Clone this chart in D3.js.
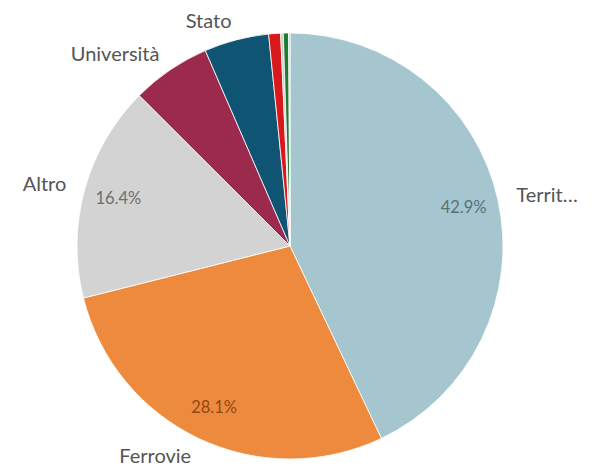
<!DOCTYPE html>
<html>
<head>
<meta charset="utf-8">
<script src="https://cdn.jsdelivr.net/npm/d3@7"></script>
<style>
  body { margin: 0; background: #fff; }
  svg { display: block; }
</style>
</head>
<body>
<div id="chart"></div>
<script>
// Data (clockwise from 12 o'clock)
const categories = ["Territ…", "Ferrovie", "Altro", "Università", "Stato", "Cat6", "Cat7", "Cat8", "Cat9"];
const shares = [42.9, 28.1, 16.4, 6.0, 4.9, 0.9, 0.2, 0.4, 0.1];
const pctLabels = ["42.9%", "28.1%", "16.4%", "", "", "", "", "", ""];
const showName = [true, true, true, true, true, false, false, false, false];
const colors = ["#a5c6cf", "#ee8a3d", "#d3d3d3", "#9b2a4c", "#0f5473", "#d7191c", "#c8c8c8", "#1f7a33", "#c9cf9a"];
const pctColors = ["#56707a", "#8c4a18", "#6e6e6e"];

const W = 592, H = 466;
const cx = 290, cy = 246, radius = 213;

const svg = d3.select("#chart")
    .append("svg")
    .attr("width", W)
    .attr("height", H)
    .append("g")
    .attr("transform", `translate(${cx},${cy})`);

const data = categories.map((c, i) => ({ name: c, value: shares[i], i }));

const pie = d3.pie().value(d => d.value).sort(null);
const arcs = pie(data);

const arc = d3.arc().innerRadius(0).outerRadius(radius);
const labelArc = d3.arc().innerRadius(radius + 19).outerRadius(radius + 19);
const pctArc = d3.arc().innerRadius(178).outerRadius(178);

// Slices
svg.selectAll("path")
    .data(arcs)
    .join("path")
    .attr("d", arc)
    .attr("fill", d => colors[d.data.i])
    .attr("stroke", "#fff")
    .attr("stroke-width", 0.8);

// Percent labels inside
svg.selectAll("text.pct")
    .data(arcs.filter(d => pctLabels[d.data.i]))
    .join("text")
    .attr("class", "pct")
    .attr("transform", d => `translate(${pctArc.centroid(d)})`)
    .attr("text-anchor", "middle")
    .attr("dy", "0.35em")
    .attr("font-family", "Lato, 'Noto Sans', sans-serif")
    .attr("font-size", 16.5)
    .attr("fill", d => pctColors[d.data.i])
    .text(d => pctLabels[d.data.i]);

// Category labels outside
svg.selectAll("text.name")
    .data(arcs.filter(d => showName[d.data.i]))
    .join("text")
    .attr("class", "name")
    .attr("transform", d => `translate(${labelArc.centroid(d)})`)
    .attr("text-anchor", d => (d.startAngle + d.endAngle) / 2 < Math.PI ? "start" : "end")
    .attr("dy", "0.35em")
    .attr("font-family", "Lato, 'Noto Sans', sans-serif")
    .attr("font-size", 20)
    .attr("fill", "#555")
    .text(d => d.data.name);
</script>
</body>
</html>
